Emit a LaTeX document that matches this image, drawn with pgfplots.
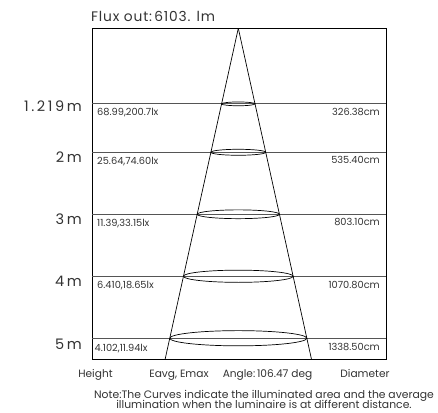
\documentclass[border=0pt]{standalone}
\usepackage{pgfplots}
\pgfplotsset{compat=1.18}
\usepackage{fontspec}
\setmainfont{Poppins}
\newfontfamily\spaced[LetterSpace=18]{Poppins}
\newfontfamily\tspaced[LetterSpace=6]{Poppins}
\definecolor{txt}{HTML}{333333}
\definecolor{hl}{HTML}{555555}
\begin{document}
\begin{tikzpicture}
\path[use as bounding box] (0,0) rectangle (438pt,-412pt);
\begin{axis}[
  at={(92pt,-28.3pt)}, anchor=north west,
  width=294pt, height=331pt, scale only axis,
  xmin=-146.3, xmax=147.7, ymin=0, ymax=5.34, y dir=reverse,
  xtick=\empty, ytick=\empty,
  axis line style={black, line width=0.8pt},
  clip=false,
]
% horizontal level lines (depth in m)
\addplot[hl, line width=1pt] coordinates {(-146.3,1.219) (147.7,1.219)};
\addplot[hl, line width=1pt] coordinates {(-146.3,2) (147.7,2)};
\addplot[hl, line width=1pt] coordinates {(-146.3,3) (147.7,3)};
\addplot[hl, line width=1pt] coordinates {(-146.3,4) (147.7,4)};
\addplot[hl, line width=1pt] coordinates {(-146.3,5) (147.7,5)};
% cone
\addplot[black, line width=0.7pt] coordinates {(0,0) (-73.2,5.34)};
\addplot[black, line width=0.7pt] coordinates {(0,0) (73.2,5.34)};
% ellipses
\draw[black, line width=0.7pt] (axis cs:0,1.219) ellipse [x radius=16.7pt, y radius=1.9pt];
\draw[black, line width=0.7pt] (axis cs:0,2) ellipse [x radius=27.4pt, y radius=3.0pt];
\draw[black, line width=0.7pt] (axis cs:0,3) ellipse [x radius=41.1pt, y radius=4.4pt];
\draw[black, line width=0.7pt] (axis cs:0,4) ellipse [x radius=54.8pt, y radius=6.1pt];
\draw[black, line width=0.7pt] (axis cs:0,5) ellipse [x radius=68.5pt, y radius=7.6pt];
\end{axis}
% title
\node[txt, anchor=base west, font=\tspaced\fontsize{13.8}{15}\selectfont, inner sep=0] at (91pt,-21.7pt) {Flux out:\,6103. lm};
% left height labels
\begin{scope}[every node/.style={txt, anchor=base east, inner sep=0, font=\spaced\fontsize{14.5}{16}\selectfont}]
\node at (82pt,-111.5pt) {1.219m};
\node at (82pt,-162pt) {2m};
\node at (82pt,-224pt) {3m};
\node at (82pt,-286.5pt) {4m};
\node at (82pt,-349pt) {5m};
\end{scope}
% inner labels
\begin{scope}[every node/.style={txt, inner sep=0, font=\fontsize{9.8}{11}\selectfont}]
\node[anchor=base west] at (97pt,-115pt) {68.99,200.7lx};
\node[anchor=base west] at (97pt,-164.5pt) {25.64,74.60lx};
\node[anchor=base west] at (97pt,-226.5pt) {11.39,33.15lx};
\node[anchor=base west] at (97pt,-288.5pt) {6.410,18.65lx};
\node[anchor=base west] at (94.5pt,-351pt) {4.102,11.94lx};
\node[anchor=base east] at (380pt,-115pt) {326.38cm};
\node[anchor=base east] at (380pt,-163.5pt) {535.40cm};
\node[anchor=base east] at (380pt,-225.5pt) {803.10cm};
\node[anchor=base east] at (380pt,-288pt) {1070.80cm};
\node[anchor=base east] at (380pt,-350.5pt) {1338.50cm};
\end{scope}
% bottom labels
\begin{scope}[every node/.style={txt, anchor=base, inner sep=0, font=\fontsize{10.6}{12}\selectfont}]
\node at (95.5pt,-377.3pt) {Height};
\node at (179pt,-377.3pt) {Eavg, Emax};
\node at (267.5pt,-377.3pt) {Angle:\,106.47 deg};
\node at (365pt,-377.3pt) {Diameter};
\end{scope}
\begin{scope}[every node/.style={txt, anchor=base, inner sep=0, font=\fontsize{10.8}{11}\selectfont}]
\node at (264pt,-398pt) {Note:The Curves indicate the illuminated area and the average};
\node at (264pt,-408.5pt) {illumination when the luminaire is at different distance.};
\end{scope}
\end{tikzpicture}
\end{document}
